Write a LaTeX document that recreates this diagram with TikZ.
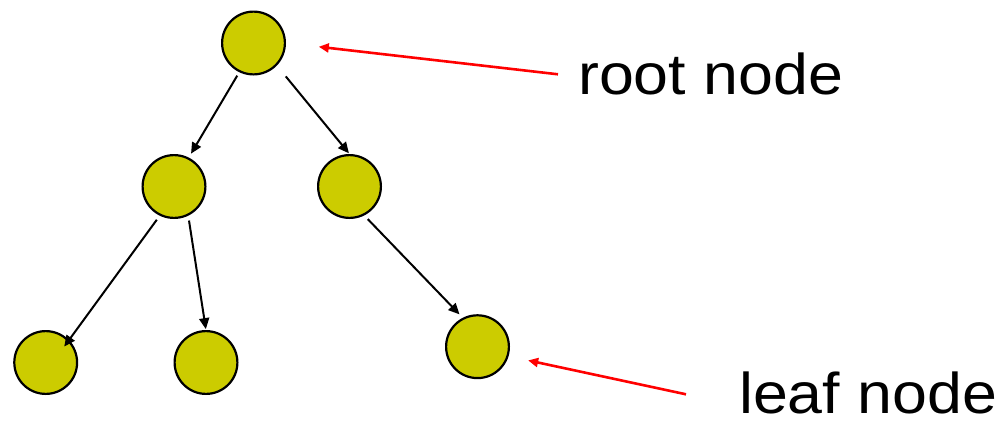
\documentclass[tikz,border=0pt]{standalone}
\usepackage{fontspec}
\setmainfont{Liberation Sans}
\newfontfamily\lblfont[FakeStretch=1.09]{Liberation Sans}
\usetikzlibrary{arrows.meta}
\definecolor{nodefill}{RGB}{204,204,0}
\definecolor{callred}{RGB}{255,0,0}
\begin{document}
\begin{tikzpicture}[x=1pt,y=-1pt,
  treenode/.style={circle,draw=black,line width=2.2pt,fill=nodefill,minimum size=62.8pt,inner sep=0pt},
  edge/.style={line width=2pt,-{Triangle[length=11pt,width=10pt]}},
  callout/.style={draw=callred,line width=2.6pt,-{Triangle[length=10pt,width=9pt]}},
  lbl/.style={font=\lblfont\fontsize{57.5}{64}\selectfont,inner sep=0pt,anchor=base west}]
\useasboundingbox (0,0) rectangle (1002,421);
\node[treenode] (root) at (253.5,43) {};
\node[treenode] (lc) at (174,186.5) {};
\node[treenode] (rc) at (349.5,186.5) {};
\node[treenode] (l1) at (45.7,362.5) {};
\node[treenode] (l2) at (206,362.5) {};
\node[treenode] (l3) at (477.5,346.7) {};
\node[lbl] (rtext) at (578,94.3) {root node};
\node[lbl] (ltext) at (739,413.3) {leaf node};
\draw[edge,shorten <=4pt,shorten >=4.5pt] (root.-116.3) -- (lc.63.8);
\draw[edge,shorten <=14pt,shorten >=0.9pt] (root.-44.6) -- (rc.90.4);
\draw[edge,shorten <=5pt,shorten >=-8.2pt] (lc.-116.4) -- (l1.44.8);
\draw[edge,shorten <=4.9pt,shorten >=0.9pt] (lc.-64) -- (l2.90.5);
\draw[edge,shorten <=5pt,shorten >=4.7pt] (rc.-63.3) -- (l3.117);
\draw[callout,shorten >=33pt] ([xshift=-20pt,yshift=20pt]rtext.base west) -- (root.0);
\draw[callout,shorten >=20pt] ([xshift=-53pt,yshift=19pt]ltext.base west) -- (l3.-17.6);
\end{tikzpicture}
\end{document}
